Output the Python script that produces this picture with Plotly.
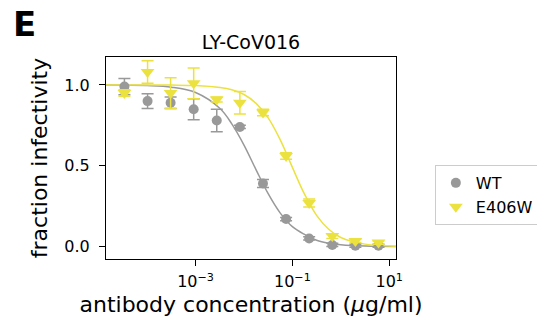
import plotly.graph_objects as go

# antibody concentrations (ug/ml), 3-fold dilutions
conc = [3.39e-5, 1.02e-4, 3.05e-4, 9.14e-4, 2.74e-3, 8.23e-3, 0.0247, 0.0741, 0.222, 0.667, 2.0, 6.0]

wt_y = [0.99, 0.90, 0.89, 0.85, 0.78, 0.74, 0.39, 0.17, 0.05, 0.01, 0.005, 0.005]
wt_err = [0.05, 0.045, 0.035, 0.065, 0.07, 0.01, 0.025, 0.01, 0.01, 0.01, 0.01, 0.01]

e406w_y = [0.95, 1.08, 0.95, 1.01, 0.91, 0.89, 0.83, 0.56, 0.27, 0.065, 0.035, 0.025]
e406w_err = [0.02, 0.07, 0.095, 0.095, 0.015, 0.07, 0.02, 0.02, 0.025, 0.015, 0.01, 0.01]

# fitted curves
curve_x = [1.4e-5, 1e-4, 3.2e-4, 1e-3, 3.2e-3, 5.6e-3, 0.01, 0.0178, 0.0316, 0.0562, 0.1, 0.178, 0.316, 0.562, 1.0, 3.16, 13.8]
wt_curve = [0.999, 0.996, 0.986, 0.953, 0.854, 0.759, 0.628, 0.475, 0.327, 0.207, 0.123, 0.075, 0.039, 0.021, 0.0115, 0.0034, 0.0007]
e406w_curve = [1.0, 1.0, 0.999, 0.996, 0.984, 0.97, 0.941, 0.886, 0.796, 0.66, 0.49, 0.324, 0.193, 0.107, 0.056, 0.015, 0.0025]

x_tickvals = [1e-3, 1e-1, 10]
x_ticktext = ["10<sup>−3</sup>", "10<sup>−1</sup>", "10<sup>1</sup>"]
y_tickvals = [0.0, 0.5, 1.0]
y_ticktext = ["0.0", "0.5", "1.0"]

GRAY = "#999999"
YELLOW = "#ece23f"
FONT = "DejaVu Sans"

fig = go.Figure()
fig.add_trace(go.Scatter(x=curve_x, y=wt_curve, mode="lines", line=dict(color=GRAY, width=1.5, shape="spline"),
                         showlegend=False, hoverinfo="skip"))
fig.add_trace(go.Scatter(x=curve_x, y=e406w_curve, mode="lines", line=dict(color=YELLOW, width=1.5, shape="spline"),
                         showlegend=False, hoverinfo="skip"))
fig.add_trace(go.Scatter(x=conc, y=wt_y, mode="markers", name="WT",
                         marker=dict(symbol="circle", size=10, color=GRAY),
                         error_y=dict(type="data", array=wt_err, color=GRAY, thickness=1.5, width=6)))
fig.add_trace(go.Scatter(x=conc, y=e406w_y, mode="markers", name="E406W",
                         marker=dict(symbol="triangle-down", size=12, color=YELLOW),
                         error_y=dict(type="data", array=e406w_err, color=YELLOW, thickness=1.5, width=6)))

fig.update_layout(
    width=537, height=326,
    margin=dict(l=106, r=141, t=57, b=67, autoexpand=False),
    paper_bgcolor="white", plot_bgcolor="white",
    font=dict(family=FONT, size=16, color="black"),
    title=dict(text="LY-CoV016", x=251/537, xanchor="center", y=1 - 42/326, yanchor="middle",
               font=dict(size=19)),
    legend=dict(x=1.134, xanchor="left", y=0.317, yanchor="middle", bordercolor="#cccccc", borderwidth=1,
                font=dict(size=16), itemwidth=30, tracegroupgap=0),
    annotations=[dict(text="<b>E</b>", xref="paper", yref="paper", x=-95/290, y=1 + 33/202,
                      xanchor="left", yanchor="middle", showarrow=False, font=dict(size=34))],
)
fig.update_xaxes(type="log", range=[-4.85, 1.14], tickvals=x_tickvals, ticktext=x_ticktext,
                 showgrid=False, zeroline=False, showline=True, linecolor="black", linewidth=1.2, mirror=True,
                 ticks="outside", ticklen=6, tickcolor="black", ticklabelstandoff=2,
                 title=dict(text="antibody concentration (<i>μ</i>g/ml)", font=dict(size=22), standoff=6))
fig.update_yaxes(range=[-0.077, 1.173], tickvals=y_tickvals, ticktext=y_ticktext,
                 showgrid=False, zeroline=False, showline=True, linecolor="black", linewidth=1.2, mirror=True,
                 ticks="outside", ticklen=6, tickcolor="black", ticklabelstandoff=6,
                 title=dict(text="fraction infectivity", font=dict(size=22), standoff=10))

fig.write_html("out.html")
